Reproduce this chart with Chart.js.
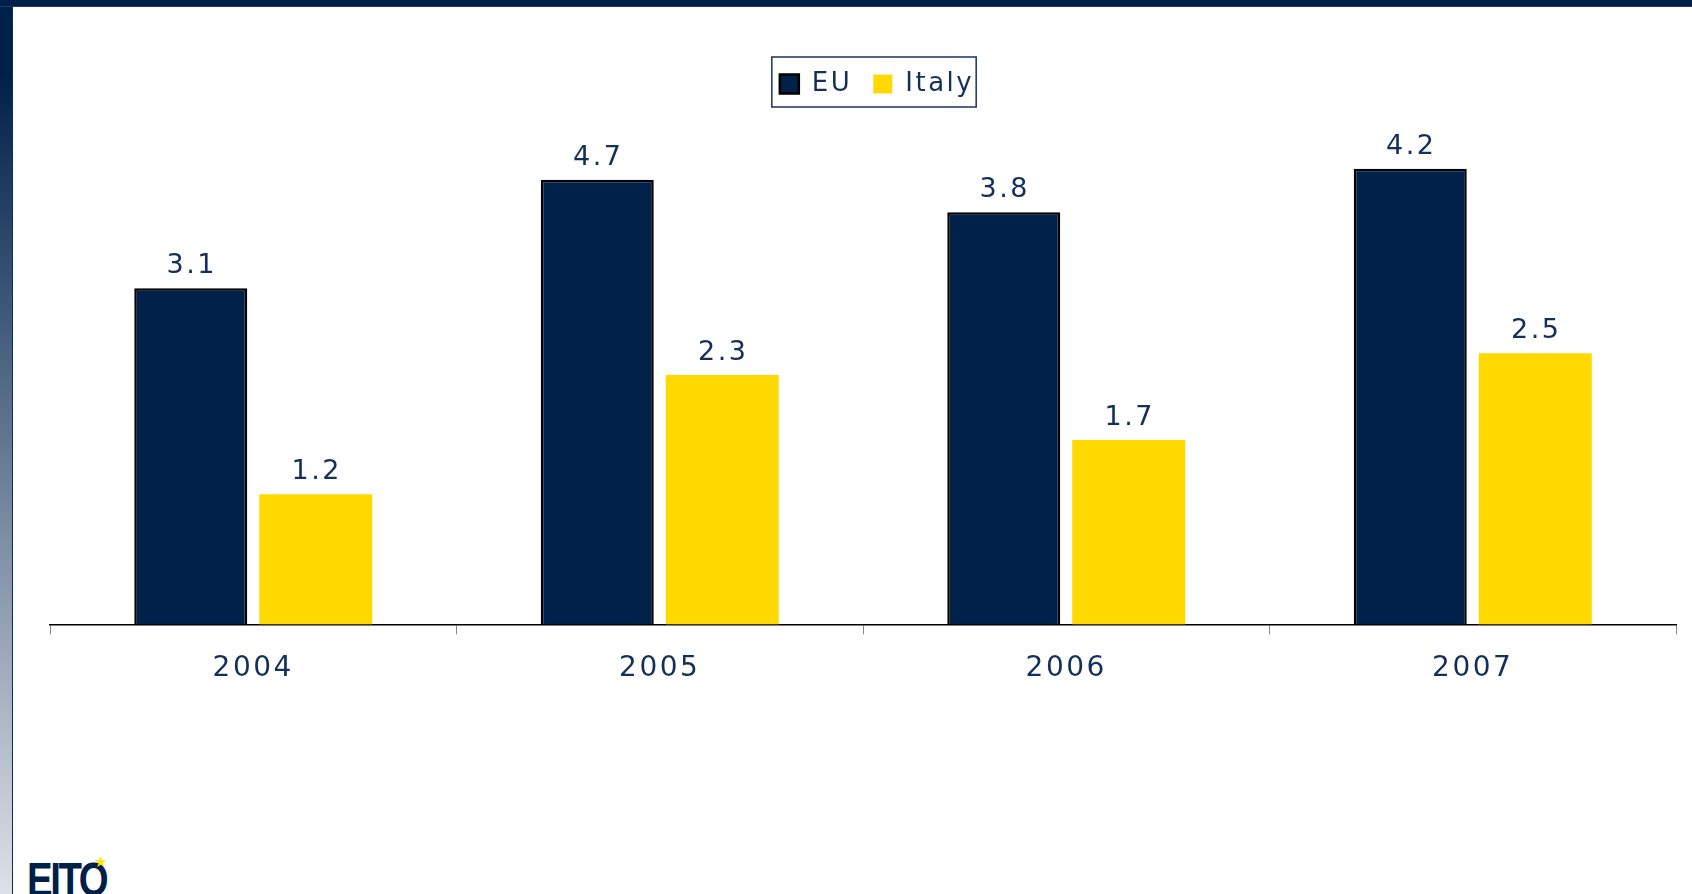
<!DOCTYPE html>
<html>
<head>
<meta charset="utf-8">
<script src="https://cdn.jsdelivr.net/npm/chart.js@4/dist/chart.umd.min.js"></script>
<style>
  html, body { margin: 0; padding: 0; width: 1692px; height: 894px; overflow: hidden; background: #fff; }
  #side { position: absolute; left: 0; top: 0; width: 12px; height: 894px;
    background: linear-gradient(to bottom, #00204a 0%, #00204a 8%, #dde1e8 100%);
    border-right: 1px solid #0d2c56; }
  #topbar { position: absolute; left: 0; top: 0; width: 1692px; height: 6px; background: #00204a; border-bottom: 1px solid #1d3d66; }
  #logo { position: absolute; left: 27px; top: 856px; font-family: "Liberation Sans Narrow", "Liberation Sans", sans-serif;
    font-weight: bold; font-size: 48px; color: #00204a; letter-spacing: -3px; line-height: 48px;
    transform: scaleX(0.8); transform-origin: left top; }
  #star { position: absolute; left: 94px; top: 855px; font-size: 15px; color: #ffe400; line-height: 15px; }
  #chart { position: absolute; left: 0; top: 0; }
</style>
</head>
<body>
<div id="side"></div>
<div id="topbar"></div>
<div id="logo">EITO</div>
<div id="star">★</div>
<canvas id="chart" width="1692" height="894"></canvas>
<script>
// values (bar heights) and the printed value labels
var years = ['2004', '2005', '2006', '2007'];
var euValues = [3.1, 4.1, 3.8, 4.2];
var italyValues = [1.2, 2.3, 1.7, 2.5];
var euLabels = ['3.1', '4.7', '3.8', '4.2'];
var italyLabels = ['1.2', '2.3', '1.7', '2.5'];

var textColor = '#14305a';
Chart.defaults.font.family = '"DejaVu Sans", Verdana, sans-serif';

// wide letter spacing like the original slide font
var spacing = {
  id: 'spacing',
  beforeLayout: function(chart) { chart.ctx.letterSpacing = '2.5px'; },
  beforeDraw: function(chart) { chart.ctx.letterSpacing = '2.5px'; }
};

// legend is a bit right of centre and has a frame round it
var legendBox = {
  id: 'legendBox',
  afterLayout: function(chart) {
    chart.legend.left += 14;
    chart.legend.right += 14;
  },
  afterDraw: function(chart) {
    var lg = chart.legend;
    var pad = lg.options.labels.padding;
    var w = lg.lineWidths[0];
    var x0 = (lg.left + pad + lg.right - w) / 2;
    var ctx = chart.ctx;
    ctx.save();
    ctx.strokeStyle = '#1b3058';
    ctx.lineWidth = 1.5;
    ctx.strokeRect(x0 - 8, lg.top + pad - 14, w - pad + 10, 50);
    ctx.restore();
  }
};

var valueLabels = {
  id: 'valueLabels',
  afterDatasetsDraw: function(chart) {
    var ctx = chart.ctx;
    ctx.save();
    ctx.font = '27px "DejaVu Sans"';
    ctx.fillStyle = textColor;
    ctx.textAlign = 'center';
    ctx.textBaseline = 'alphabetic';
    [euLabels, italyLabels].forEach(function(texts, d) {
      chart.getDatasetMeta(d).data.forEach(function(bar, i) {
        ctx.fillText(texts[i], bar.x + 1, bar.y - 15);
      });
    });
    ctx.restore();
  }
};

var ctx = document.getElementById('chart').getContext('2d');
var chart = new Chart(ctx, {
  type: 'bar',
  data: {
    labels: years,
    datasets: [{
      label: 'EU',
      data: euValues,
      backgroundColor: '#00224a',
      borderColor: '#000000',
      borderWidth: 2.5,
      categoryPercentage: 0.615,
      barPercentage: 0.904
    }, {
      label: 'Italy',
      data: italyValues,
      backgroundColor: '#ffd900',
      borderWidth: 0,
      categoryPercentage: 0.615,
      barPercentage: 0.904
    }]
  },
  options: {
    responsive: false,
    animation: false,
    devicePixelRatio: 1,
    layout: { padding: { left: 50, right: 16, top: 50, bottom: 190 } },
    plugins: {
      tooltip: { enabled: false },
      legend: {
        position: 'top',
        labels: {
          color: textColor,
          font: { size: 26 },
          boxWidth: 19,
          boxHeight: 19,
          padding: 21
        }
      }
    },
    scales: {
      x: {
        grid: { offset: true, drawOnChartArea: false, tickLength: 10, color: '#888888' },
        border: { color: '#000000', width: 1.5 },
        ticks: { color: textColor, font: { size: 28 }, padding: 18 }
      },
      y: { display: false, min: 0, max: 4.77 }
    }
  },
  plugins: [spacing, legendBox, valueLabels]
});
</script>
</body>
</html>
